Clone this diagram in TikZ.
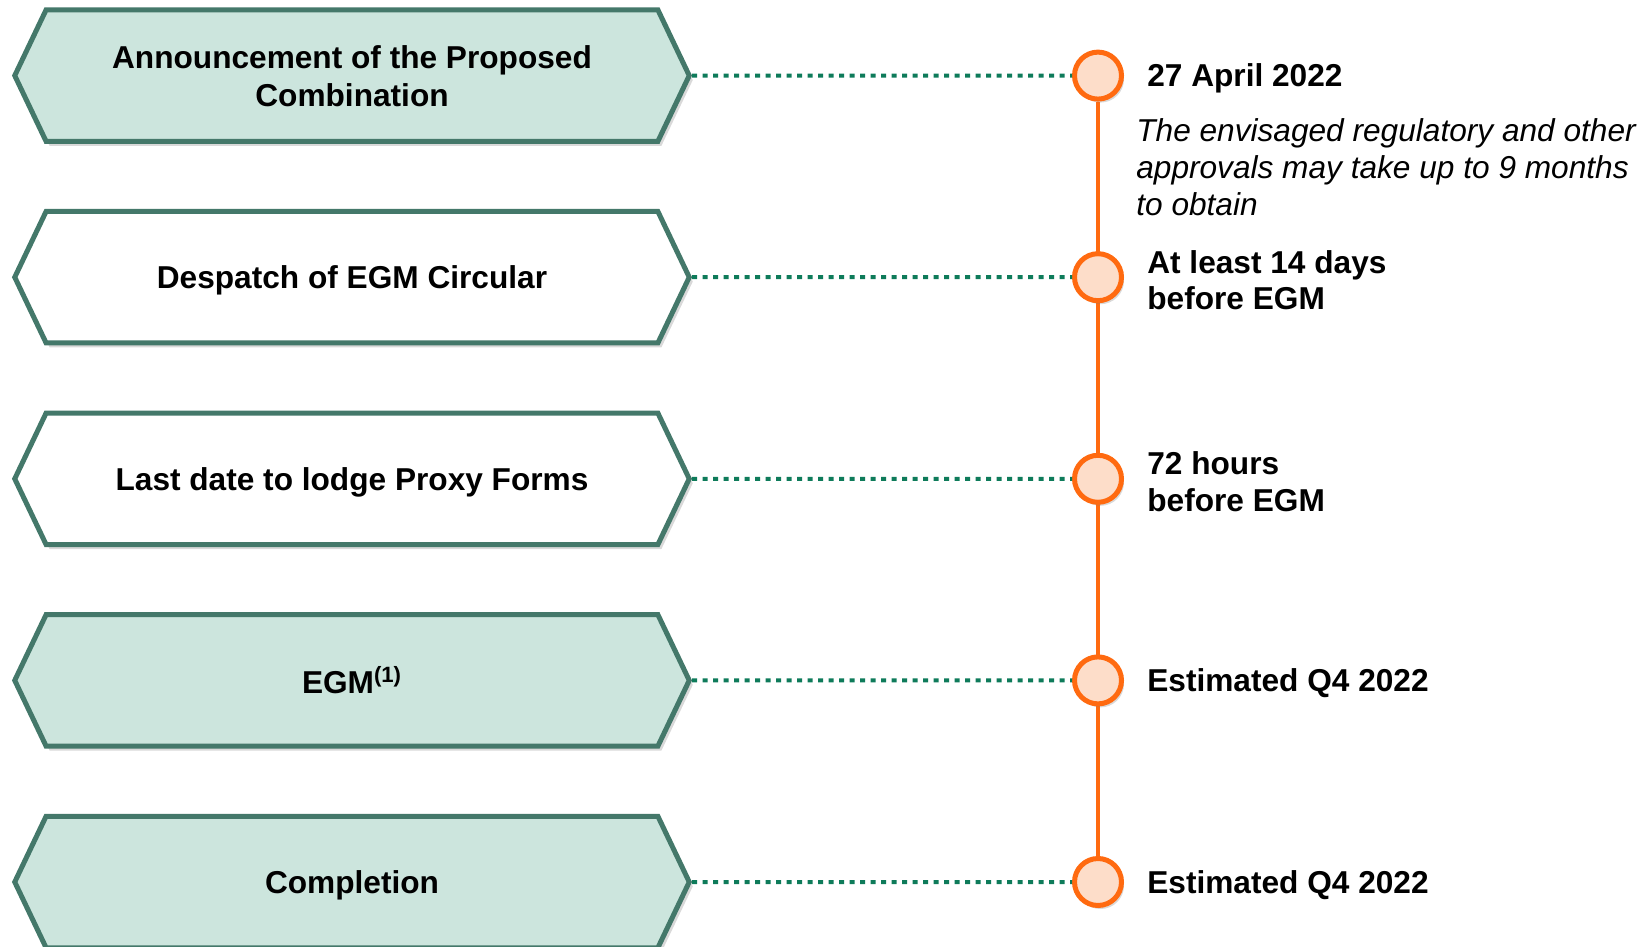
\documentclass[tikz,border=0pt]{standalone}
\usepackage{fontspec}
\setmainfont{Liberation Sans}
\usetikzlibrary{positioning,shapes.symbols,shadows,backgrounds}
\definecolor{boxfill}{HTML}{CCE5DD}
\definecolor{boxline}{HTML}{44786A}
\definecolor{dotline}{HTML}{0E7B5A}
\definecolor{tlorange}{HTML}{FF6A10}
\definecolor{tlfill}{HTML}{FDDDC9}
\tikzset{
  stage/.style={signal, signal to=west and east, signal pointer angle=129,
    draw=boxline, fill=white, line width=0.1cm, inner sep=0pt,
    minimum width=13.49cm, minimum height=2.63cm, align=center,
    text depth=0pt, font=\bfseries\fontsize{18}{21.6}\selectfont,
    drop shadow={shadow xshift=0.07cm, shadow yshift=-0.09cm, opacity=0.3}},
  key/.style={stage, fill=boxfill},
  dot/.style={circle, draw=tlorange, fill=tlfill, line width=0.1cm,
    minimum size=0.94cm, inner sep=0pt,
    drop shadow={shadow xshift=0.05cm, shadow yshift=-0.07cm, opacity=0.3}},
  when/.style={align=left, inner sep=0pt, yshift=-0.06cm,
    font=\bfseries\fontsize{18}{21}\selectfont},
  note/.style={align=left, inner sep=0pt, font=\itshape\fontsize{18}{21.3}\selectfont},
  link/.style={dotline, line width=0.08cm, dash pattern=on 0.1cm off 0.11cm}
}
\begin{document}
\begin{tikzpicture}[node distance=4.032cm]
  \useasboundingbox (-7.04,1.512) rectangle (25.9,-17.428);
  \node[key] (A) {Announcement of the Proposed\\Combination};
  \node[stage, below of=A] (D) {Despatch of EGM Circular};
  \node[stage, below of=D] (P) {Last date to lodge Proxy Forms};
  \node[key, below of=P] (E) {EGM\textsuperscript{(1)}};
  \node[key, below of=E] (C) {Completion};

  \node[dot, node distance=14.92cm, right of=A] (a) {};
  \node[dot, below of=a] (d) {};
  \node[dot, below of=d] (p) {};
  \node[dot, below of=p] (e) {};
  \node[dot, below of=e] (c) {};

  \node[when, right=0.46cm of a] (ta) {27 April 2022};
  \node[note, anchor=north west] (n) at ([xshift=-0.22cm, yshift=-0.62cm]ta.base west)
    {The envisaged regulatory and other\\approvals may take up to 9 months\\to obtain};
  \node[when, right=0.46cm of d] (td) {At least 14 days\\before EGM};
  \node[when, right=0.46cm of p] (tp) {72 hours\\before EGM};
  \node[when, right=0.46cm of e] (te) {Estimated Q4 2022};
  \node[when, right=0.46cm of c] (tc) {Estimated Q4 2022};

  \draw[link] (A) -- (a);
  \draw[link] (D) -- (d);
  \draw[link] (P) -- (p);
  \draw[link] (E) -- (e);
  \draw[link] (C) -- (c);

  \begin{scope}[on background layer]
    \draw[tlorange, line width=0.08cm] (a) -- (c);
  \end{scope}
\end{tikzpicture}
\end{document}
